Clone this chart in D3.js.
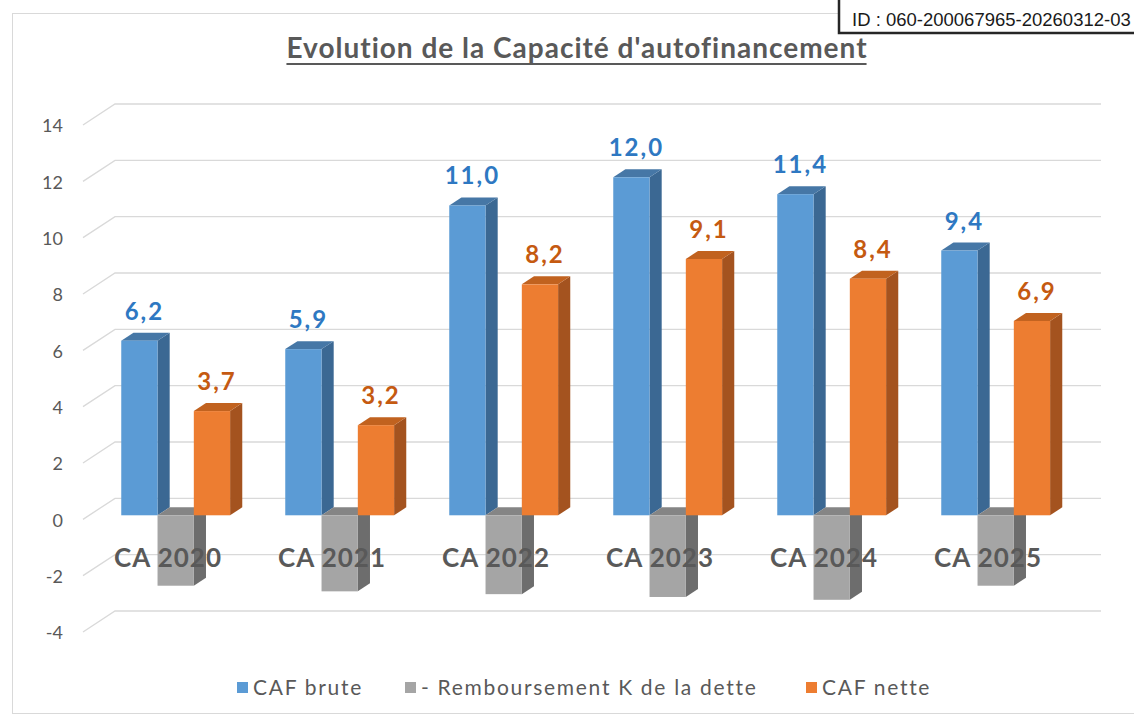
<!DOCTYPE html>
<html>
<head>
<meta charset="utf-8">
<script src="https://cdn.jsdelivr.net/npm/d3@7"></script>
<style>
  body { margin: 0; background: #fff; }
  svg { display: block; }
</style>
</head>
<body>
<div id="chart"></div>
<script>
// data
const categories = ["CA 2020", "CA 2021", "CA 2022", "CA 2023", "CA 2024", "CA 2025"];
const cafBrute = [6.2, 5.9, 11.0, 12.0, 11.4, 9.4];
const remboursement = [-2.5, -2.7, -2.8, -2.9, -3.0, -2.5];
const cafNette = [3.7, 3.2, 8.2, 9.1, 8.4, 6.9];
const seriesNames = ["CAF brute", "- Remboursement K de la dette", "CAF nette"];
const yTicks = [-4, -2, 0, 2, 4, 6, 8, 10, 12, 14];

const W = 1134, H = 716;
const colors = {
  front: ["#5b9bd5", "#a5a5a5", "#ed7d31"],
  side: ["#3b6893", "#6d6d6d", "#a4531f"],
  top: ["#4677a6", "#858585", "#c1621f"],
  label: ["#2e78c2", "#7f7f7f", "#c55a11"]
};

const svg = d3.select("#chart").append("svg")
  .attr("width", W).attr("height", H);

// chart frame
svg.append("rect")
  .attr("x", 12.5).attr("y", 13.5)
  .attr("width", 1200).attr("height", 700)
  .attr("fill", "none").attr("stroke", "#d9d9d9");

// oblique projection: depth d in [0,1]
const DX = 32, DY = -21;
const px = (x, d) => x + DX * d;
const py = (y, d) => y + DY * d;

const y = d3.scaleLinear().domain([-4, 14]).range([633, 126]);
const x0 = d3.scaleBand().domain(categories).range([86, 1070]);
const x1 = d3.scaleBand().domain([0, 1, 2]).range([0, x0.bandwidth()])
  .paddingInner(0).paddingOuter(0.76);

// back wall grid lines + diagonals to the axis labels
const grid = svg.append("g");
yTicks.forEach(t => {
  const yy = y(t) - 1;
  grid.append("path")
    .attr("d", `M83,${yy} L${px(83, 1)},${py(yy, 1)} L1101,${py(yy, 1)}`)
    .attr("fill", "none")
    .attr("stroke", "#d9d9d9")
    .attr("stroke-width", 1.3);
});

svg.append("g").selectAll("text")
  .data(yTicks)
  .enter()
  .append("text")
  .attr("x", 63)
  .attr("y", d => y(d))
  .attr("dy", "0.35em")
  .attr("text-anchor", "end")
  .style("font-family", "Lato, 'Open Sans', sans-serif")
  .style("font-size", "18px")
  .style("fill", "#595959")
  .text(d => d);

// bars
const series = [cafBrute, remboursement, cafNette];
const D0 = 0.24, D1 = 0.62;
const bars = svg.append("g");

function poly(pts) {
  return "M" + pts.map(p => p.join(",")).join("L") + "Z";
}

categories.forEach((cat, i) => {
  series.forEach((vals, s) => {
    const v = vals[i];
    const xa = x0(cat) + x1(s);
    const xb = xa + x1.bandwidth();
    const yt = y(Math.max(v, 0));
    const yb = y(Math.min(v, 0));
    const g = bars.append("g");
    // right side
    g.append("path")
      .attr("d", poly([[px(xb, D0), py(yt, D0)], [px(xb, D1), py(yt, D1)],
                       [px(xb, D1), py(yb, D1)], [px(xb, D0), py(yb, D0)]]))
      .attr("fill", colors.side[s]);
    // top
    g.append("path")
      .attr("d", poly([[px(xa, D0), py(yt, D0)], [px(xb, D0), py(yt, D0)],
                       [px(xb, D1), py(yt, D1)], [px(xa, D1), py(yt, D1)]]))
      .attr("fill", colors.top[s]);
    // front
    g.append("rect")
      .attr("x", px(xa, D0))
      .attr("y", py(yt, D0))
      .attr("width", xb - xa)
      .attr("height", yb - yt)
      .attr("fill", colors.front[s]);
  });
});

// value labels for CAF brute and CAF nette
[0, 2].forEach(s => {
  svg.append("g").selectAll("text")
    .data(series[s])
    .enter()
    .append("text")
    .attr("x", (d, i) => px(x0(categories[i]) + x1(s) + x1.bandwidth() / 2, D0) + 5)
    .attr("y", d => py(y(d), D0) - 21)
    .attr("text-anchor", "middle")
    .style("font-family", "Lato, 'Open Sans', sans-serif")
    .style("font-weight", "bold")
    .style("font-size", "24px")
    .style("letter-spacing", "2px")
    .style("fill", colors.label[s])
    .text(d => d3.format(".1f")(d).replace(".", ","));
});

// category labels
svg.append("g").selectAll("text")
  .data(categories)
  .enter()
  .append("text")
  .attr("x", d => x0(d) + x0.bandwidth() / 2)
  .attr("y", 567)
  .attr("text-anchor", "middle")
  .style("font-family", "Lato, 'Open Sans', sans-serif")
  .style("font-weight", "bold")
  .style("font-size", "26px")
  .style("letter-spacing", "1px")
  .style("fill", "#595959")
  .text(d => d);

// title
const title = svg.append("text")
  .attr("x", 577)
  .attr("y", 58)
  .attr("text-anchor", "middle")
  .style("font-family", "Lato, 'Open Sans', sans-serif")
  .style("font-weight", "bold")
  .style("font-size", "28px")
  .style("letter-spacing", "1px")
  .style("fill", "#595959")
  .text("Evolution de la Capacité d'autofinancement");
const tb = title.node().getBBox();
svg.append("line")
  .attr("x1", tb.x).attr("x2", tb.x + tb.width - 1)
  .attr("y1", 64).attr("y2", 64)
  .attr("stroke", "#595959").attr("stroke-width", 1.8);

// legend
const legendX = [237, 405, 806];
const legend = svg.append("g");
seriesNames.forEach((name, s) => {
  legend.append("rect")
    .attr("x", legendX[s]).attr("y", 682)
    .attr("width", 11).attr("height", 11)
    .attr("fill", colors.front[s]);
  legend.append("text")
    .attr("x", legendX[s] + 16)
    .attr("y", 695)
    .style("font-family", "Lato, 'Open Sans', sans-serif")
    .style("font-size", "21px")
    .style("letter-spacing", "1.7px")
    .style("fill", "#595959")
    .text(name);
});

// ID stamp
svg.append("rect")
  .attr("x", 839).attr("y", -5)
  .attr("width", 400).attr("height", 38)
  .attr("fill", "#fff")
  .attr("stroke", "#262626")
  .attr("stroke-width", 2.5);
svg.append("text")
  .attr("x", 852).attr("y", 26)
  .style("font-family", "'Liberation Sans', Arial, sans-serif")
  .style("font-size", "18.5px")
  .style("fill", "#1a1a1a")
  .text("ID : 060-200067965-20260312-03");
</script>
</body>
</html>
